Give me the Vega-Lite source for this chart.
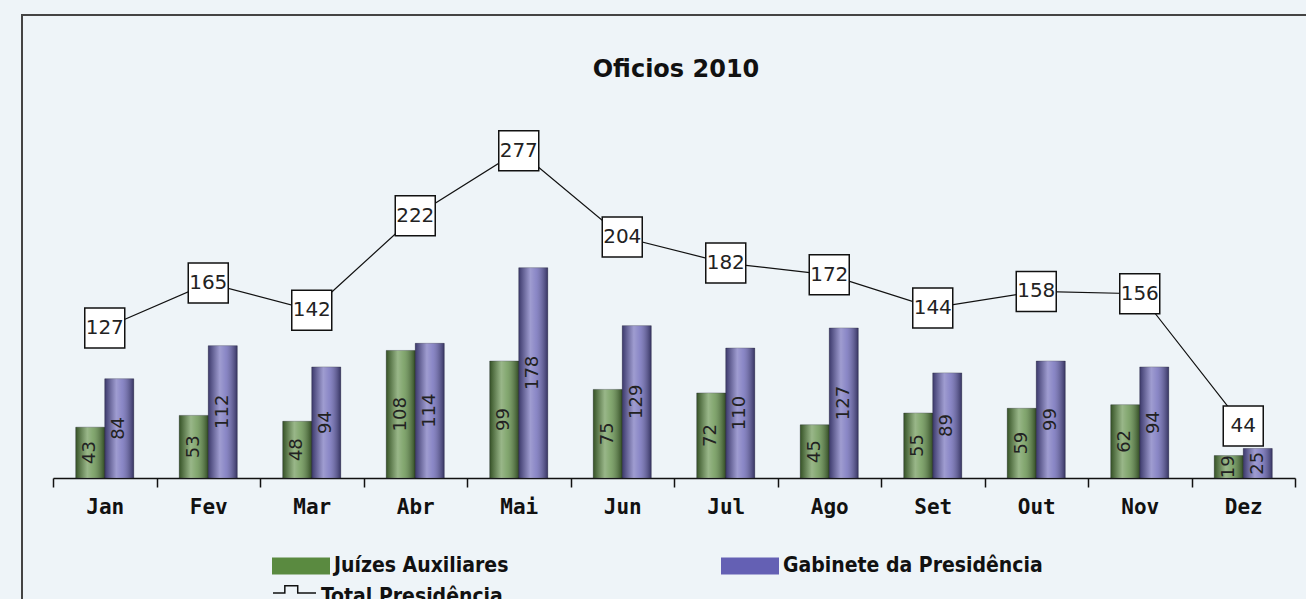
{
  "$schema": "https://vega.github.io/schema/vega-lite/v6.json",
  "width": 1290,
  "height": 590,
  "padding": {"left": 22, "top": 15, "right": 0, "bottom": 0},
  "background": "#eef4f8",
  "config": {
    "view": {"stroke": "#444", "strokeWidth": 2, "fill": "#eef4f8"},
    "legend": {"padding": 0}
  },
  "title": {
    "text": "Oficios 2010",
    "font": "DejaVu Sans",
    "fontSize": 24,
    "fontWeight": "bold",
    "color": "#111",
    "anchor": "middle",
    "frame": "group",
    "offset": -67,
    "dx": 9
  },
  "datasets": {
    "bars": [
      {"month": "Jan", "series": "Juízes Auxiliares", "value": 43},
      {"month": "Jan", "series": "Gabinete da Presidência", "value": 84},
      {"month": "Fev", "series": "Juízes Auxiliares", "value": 53},
      {"month": "Fev", "series": "Gabinete da Presidência", "value": 112},
      {"month": "Mar", "series": "Juízes Auxiliares", "value": 48},
      {"month": "Mar", "series": "Gabinete da Presidência", "value": 94},
      {"month": "Abr", "series": "Juízes Auxiliares", "value": 108},
      {"month": "Abr", "series": "Gabinete da Presidência", "value": 114},
      {"month": "Mai", "series": "Juízes Auxiliares", "value": 99},
      {"month": "Mai", "series": "Gabinete da Presidência", "value": 178},
      {"month": "Jun", "series": "Juízes Auxiliares", "value": 75},
      {"month": "Jun", "series": "Gabinete da Presidência", "value": 129},
      {"month": "Jul", "series": "Juízes Auxiliares", "value": 72},
      {"month": "Jul", "series": "Gabinete da Presidência", "value": 110},
      {"month": "Ago", "series": "Juízes Auxiliares", "value": 45},
      {"month": "Ago", "series": "Gabinete da Presidência", "value": 127},
      {"month": "Set", "series": "Juízes Auxiliares", "value": 55},
      {"month": "Set", "series": "Gabinete da Presidência", "value": 89},
      {"month": "Out", "series": "Juízes Auxiliares", "value": 59},
      {"month": "Out", "series": "Gabinete da Presidência", "value": 99},
      {"month": "Nov", "series": "Juízes Auxiliares", "value": 62},
      {"month": "Nov", "series": "Gabinete da Presidência", "value": 94},
      {"month": "Dez", "series": "Juízes Auxiliares", "value": 19},
      {"month": "Dez", "series": "Gabinete da Presidência", "value": 25}
    ],
    "totals": [
      {"month": "Jan", "total": 127},
      {"month": "Fev", "total": 165},
      {"month": "Mar", "total": 142},
      {"month": "Abr", "total": 222},
      {"month": "Mai", "total": 277},
      {"month": "Jun", "total": 204},
      {"month": "Jul", "total": 182},
      {"month": "Ago", "total": 172},
      {"month": "Set", "total": 144},
      {"month": "Out", "total": 158},
      {"month": "Nov", "total": 156},
      {"month": "Dez", "total": 44}
    ]
  },
  "resolve": {"scale": {"y": "independent"}},
  "layer": [
    {
      "layer": [
        {
          "data": {"name": "bars"},
          "mark": {"type": "bar", "stroke": "#2a2a3a", "strokeWidth": 0.6, "strokeOpacity": 0.6},
          "encoding": {
            "x": {
              "field": "month", "type": "nominal",
              "scale": {"domain": ["Jan","Fev","Mar","Abr","Mai","Jun","Jul","Ago","Set","Out","Nov","Dez"], "range": [31, 1273], "paddingInner": 0, "paddingOuter": 0},
              "axis": {
                "title": null, "orient": "bottom", "offset": -127,
                "domainColor": "#111", "domainWidth": 1.5,
                "tickColor": "#111", "tickWidth": 1.5, "tickSize": 9, "tickBand": "extent",
                "labelFont": "DejaVu Sans Mono", "labelFontWeight": "bold", "labelFontSize": 21,
                "labelColor": "#111", "labelPadding": 9, "labelAngle": 0, "grid": false
              }
            },
            "xOffset": {
              "field": "series", "type": "nominal",
              "scale": {"domain": ["Juízes Auxiliares", "Gabinete da Presidência"], "paddingInner": 0, "paddingOuter": 0.784}
            },
            "y": {
              "field": "value", "type": "quantitative",
              "scale": {"domain": [0, 392], "range": [463, 0], "nice": false, "zero": true},
              "axis": null
            },
            "color": {
              "field": "series", "type": "nominal",
              "scale": {"domain": ["Juízes Auxiliares", "Gabinete da Presidência"], "range": ["#5a8a40", "#6460b4"]},
              "legend": {
                "title": null, "orient": "none", "legendX": 250, "legendY": 522,
                "direction": "horizontal", "columns": 2, "columnPadding": 212,
                "symbolType": "M-1,-0.29H1V0.29H-1Z", "symbolSize": 3364, "symbolStrokeWidth": 0,
                "labelFont": "DejaVu Sans Condensed", "labelFontWeight": "bold", "labelFontSize": 21,
                "labelColor": "#111", "labelOffset": 4, "labelLimit": 400
              }
            }
          }
        },
        {
          "data": {"name": "bars"},
          "mark": {
            "type": "bar",
            "fill": {
              "gradient": "linear", "x1": 0, "x2": 1, "y1": 0, "y2": 0,
              "stops": [
                {"offset": 0, "color": "rgba(0,0,0,0.4)"},
                {"offset": 0.4, "color": "rgba(255,255,255,0.38)"},
                {"offset": 0.6, "color": "rgba(255,255,255,0.25)"},
                {"offset": 1, "color": "rgba(0,0,0,0.45)"}
              ]
            }
          },
          "encoding": {
            "x": {"field": "month", "type": "nominal"},
            "xOffset": {"field": "series", "type": "nominal"},
            "y": {"field": "value", "type": "quantitative"}
          }
        },
        {
          "data": {"name": "totals"},
          "mark": {"type": "line", "strokeWidth": 1.2},
          "encoding": {
            "x": {"field": "month", "type": "nominal"},
            "y": {"field": "total", "type": "quantitative"},
            "stroke": {
              "datum": "Total Presidência",
              "scale": {"range": ["#111"]},
              "legend": {
                "title": null, "orient": "none", "legendX": 250, "legendY": 559,
                "symbolType": "M-1,-0.16H-0.45V-0.5H0.15V-0.16H1", "symbolSize": 1849,
                "symbolStrokeWidth": 1.5, "symbolStrokeColor": "#111", "symbolFillColor": "transparent",
                "labelFont": "DejaVu Sans Condensed", "labelFontWeight": "bold", "labelFontSize": 21,
                "labelColor": "#111", "labelOffset": 4, "labelLimit": 400
              }
            }
          }
        },
        {
          "data": {"name": "totals"},
          "mark": {"type": "point", "shape": "square", "size": 1600, "filled": true, "fill": "white", "stroke": "#111", "strokeWidth": 1.5, "opacity": 1},
          "encoding": {
            "x": {"field": "month", "type": "nominal"},
            "y": {"field": "total", "type": "quantitative"}
          }
        },
        {
          "data": {"name": "totals"},
          "mark": {"type": "text", "font": "DejaVu Sans", "fontSize": 20, "color": "#222", "baseline": "middle", "align": "center"},
          "encoding": {
            "x": {"field": "month", "type": "nominal"},
            "y": {"field": "total", "type": "quantitative"},
            "text": {"field": "total", "type": "quantitative"}
          }
        }
      ]
    },
    {
      "data": {"name": "bars"},
      "mark": {"type": "text", "angle": 270, "font": "DejaVu Sans", "fontSize": 18, "color": "#222", "baseline": "middle", "align": "center"},
      "encoding": {
        "x": {"field": "month", "type": "nominal"},
        "xOffset": {"field": "series", "type": "nominal"},
        "y": {
          "field": "value", "type": "quantitative",
          "scale": {"domain": [0, 784], "range": [463, 0], "nice": false, "zero": true},
          "axis": null
        },
        "text": {"field": "value", "type": "quantitative"}
      }
    }
  ]
}
